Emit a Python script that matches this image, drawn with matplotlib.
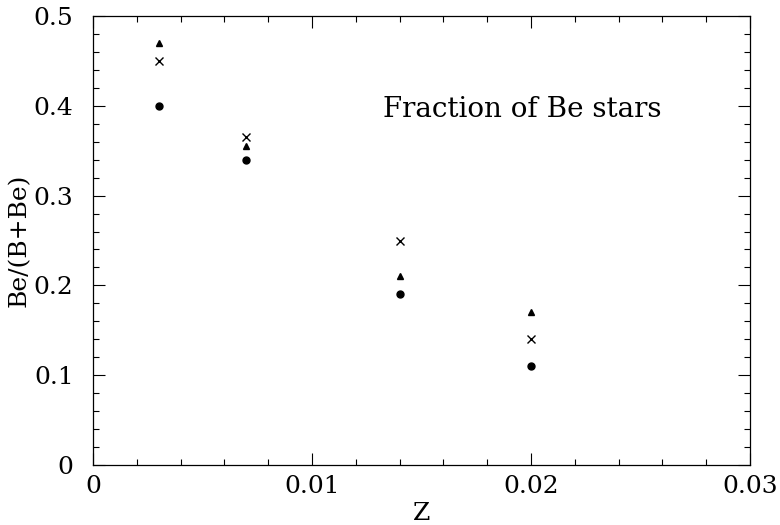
import matplotlib
matplotlib.use("Agg")
import matplotlib.pyplot as plt
from matplotlib.ticker import MultipleLocator

# metallicity values
Z = [0.003, 0.007, 0.014, 0.020]

# Be fraction for the three marker sets
frac_triangle = [0.47, 0.355, 0.21, 0.17]
frac_cross = [0.45, 0.365, 0.25, 0.14]
frac_circle = [0.40, 0.34, 0.19, 0.11]

XTICKS = [0, 0.01, 0.02, 0.03]
XTICK_LABELS = ["0", "0.01", "0.02", "0.03"]
YTICKS = [0, 0.1, 0.2, 0.3, 0.4, 0.5]
YTICK_LABELS = ["0", "0.1", "0.2", "0.3", "0.4", "0.5"]

plt.rcParams["font.family"] = ["DejaVu Serif"]
plt.rcParams["font.size"] = 18

fig = plt.figure(figsize=(7.8, 5.25), dpi=100)
ax = fig.add_axes([93 / 780, 60 / 525, 657 / 780, 449 / 525])

ax.plot(Z, frac_triangle, linestyle="none", marker="^", markersize=4.5, color="black")
ax.plot(Z, frac_cross, linestyle="none", marker="x", markersize=6, markeredgewidth=1.0, color="black")
ax.plot(Z, frac_circle, linestyle="none", marker="o", markersize=5, color="black")

ax.set_xlim(0, 0.03)
ax.set_ylim(0, 0.5)
ax.set_xticks(XTICKS)
ax.set_xticklabels(XTICK_LABELS)
ax.set_yticks(YTICKS)
ax.set_yticklabels(YTICK_LABELS)
ax.xaxis.set_minor_locator(MultipleLocator(0.002))
ax.yaxis.set_minor_locator(MultipleLocator(0.02))

ax.tick_params(which="both", direction="in", top=True, right=True, width=0.8, colors="black")
ax.tick_params(which="major", length=8.6)
ax.tick_params(which="minor", length=4.3)
ax.tick_params(axis="x", which="major", pad=7)
ax.tick_params(axis="y", which="major", pad=14)
for s in ax.spines.values():
    s.set_linewidth(0.9)

ax.set_xlabel("Z", labelpad=3)
ax.set_ylabel("Be/(B+Be)", labelpad=2)

ax.text(0.01325, 0.388, "Fraction of Be stars", va="baseline", ha="left", fontsize=20)

fig.savefig("out.png", dpi=100)
